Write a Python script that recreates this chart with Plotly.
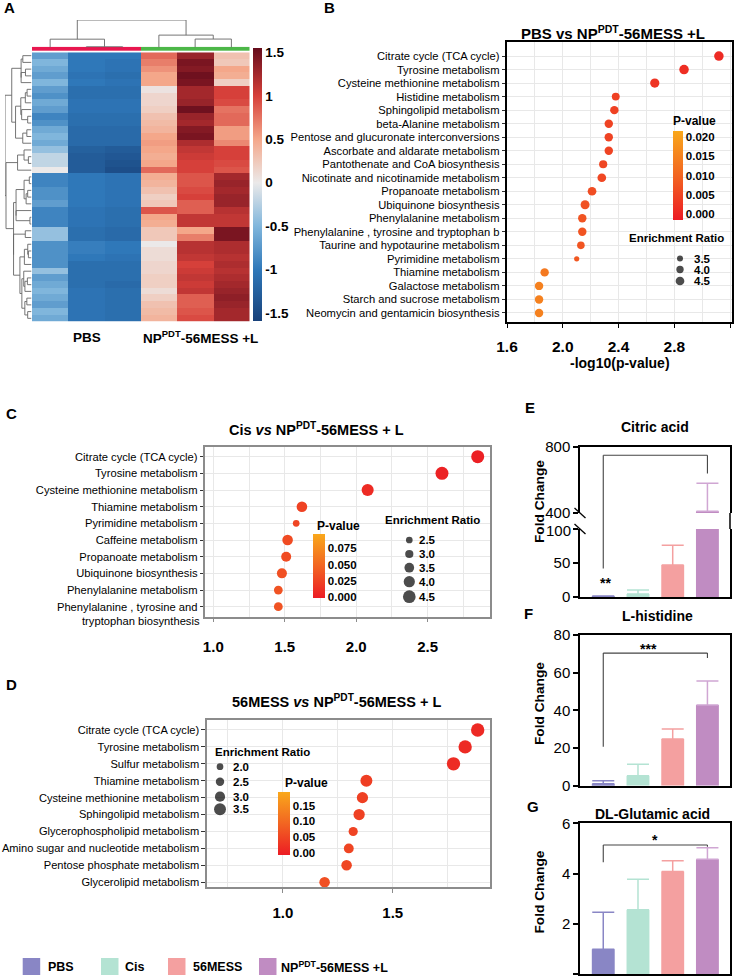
import numpy as np
import plotly.graph_objects as go

W, H = 737, 980
FONT = "Liberation Sans, Arial, Helvetica, sans-serif"
NARROW = "Liberation Sans Narrow, Arial Narrow, Liberation Sans, sans-serif"


def px(x):
    return x / W


def py(y):
    return 1 - y / H


# ---------------- Panel A : heatmap (z-scores) ----------------
heat_samples = ["PBS-1", "PBS-2", "PBS-3", "NP-1", "NP-2", "NP-3"]
heat_sample_group = [0, 0, 0, 1, 1, 1]
heat_group_labels = ["PBS", "NP<sup>PDT</sup>-56MESS +L"]
pbs1 = [-0.7, -0.5, -0.6, -0.7, -0.5, -0.7, -0.8, -0.6, -0.7, -0.9, -0.8, -0.6, -0.5, -0.6, -0.4, -0.2,
        -0.2, 0.0, -0.9, -0.9, -0.8, -0.8, -0.7, -0.9, -0.9, -0.9, -0.4, -0.4, -0.8, -0.8, -0.8, -0.8,
        -0.4, -0.7, -0.6, -0.5, -0.6, -0.7, -0.5, -0.6]
pbs2 = [-1.0, -1.0, -1.0, -1.05, -1.0, -1.1, -1.1, -1.05, -1.05, -1.1, -1.1, -1.15, -1.15, -1.15, -1.25,
        -1.3, -1.3, -1.3, -1.0, -1.0, -1.0, -1.0, -1.0, -1.05, -1.05, -1.05, -1.1, -1.1, -0.95, -0.95,
        -1.0, -1.1, -1.1, -1.1, -1.1, -1.05, -1.05, -1.05, -1.05, -1.05]
pbs3 = [-1.0, -1.05, -1.05, -1.1, -1.05, -1.1, -1.1, -1.05, -1.05, -1.1, -1.1, -1.15, -1.15, -1.15, -1.3,
        -1.35, -1.4, -1.45, -1.05, -1.05, -1.05, -1.05, -1.05, -1.1, -1.1, -1.1, -1.15, -1.15, -1.0, -1.0,
        -1.05, -1.1, -1.1, -1.1, -1.15, -1.1, -1.1, -1.1, -1.1, -1.1]
np1 = [0.8, 0.7, 0.6, 0.5, 0.5, 0.05, 0.15, 0.15, 0.2, 0.3, 0.35, 0.4, 0.5, 0.55, 0.5, 0.45, 0.5, 0.8,
       0.45, 0.4, 0.3, 0.2, 0.25, 0.9, 0.5, 0.45, 0.25, 0.25, 0.0, 0.1, 0.1, 0.15, 0.15, 0.2, 0.2, 0.1,
       0.2, 0.3, 0.35, 0.4]
np2 = [1.3, 1.45, 1.4, 1.5, 1.45, 1.25, 1.25, 1.3, 1.5, 1.3, 1.25, 1.4, 1.45, 1.2, 1.1, 1.05, 1.0, 1.0,
       0.9, 0.9, 0.95, 1.0, 0.85, 0.85, 1.1, 1.1, 0.5, 0.7, 1.15, 1.15, 1.1, 1.0, 1.05, 1.1, 1.05, 1.1,
       0.85, 0.85, 0.9, 0.95]
np3 = [0.3, 0.25, 0.5, 0.45, 0.2, 1.0, 1.0, 0.95, 0.75, 0.8, 0.8, 0.55, 0.55, 0.65, 1.0, 1.0, 0.95, 0.9,
       1.25, 1.3, 1.25, 1.3, 1.3, 1.15, 1.1, 1.1, 1.45, 1.45, 1.2, 1.2, 1.15, 1.2, 1.15, 1.2, 1.25, 1.3,
       1.35, 1.3, 1.25, 1.25]
heat_cols = [pbs1, pbs2, pbs3, np1, np2, np3]
heat_ticks = [1.5, 1, 0.5, 0, -0.5, -1, -1.5]
heat_tick_text = ["1.5", "1", "0.5", "0", "-0.5", "-1", "-1.5"]

# ---------------- Panel B ----------------
b_pathways = ["Citrate cycle (TCA cycle)", "Tyrosine metabolism", "Cysteine methionine metabolism",
              "Histidine metabolism", "Sphingolipid metabolism", "beta-Alanine metabolism",
              "Pentose and glucuronate interconversions", "Ascorbate and aldarate metabolism",
              "Pantothenate and CoA biosynthesis", "Nicotinate and nicotinamide metabolism",
              "Propanoate metabolism", "Ubiquinone biosynthesis", "Phenylalanine metabolism",
              "Phenylalanine , tyrosine and tryptophan b", "Taurine and hypotaurine metabolism",
              "Pyrimidine metabolism", "Thiamine metabolism", "Galactose metabolism",
              "Starch and sucrose metabolism", "Neomycin and gentamicin biosynthesis"]
b_log10p = [3.12, 2.87, 2.66, 2.38, 2.37, 2.33, 2.33, 2.33, 2.29, 2.28, 2.21, 2.16, 2.14, 2.14, 2.13,
            2.10, 1.87, 1.83, 1.83, 1.83]
b_ratio = [4.8, 4.8, 4.7, 4.2, 4.4, 4.4, 4.4, 4.4, 4.3, 4.5, 4.5, 4.6, 4.4, 4.4, 4.1, 3.2, 4.4, 4.4,
           4.4, 4.4]
b_ratio_legend = [3.5, 4.0, 4.5]
b_p_ticks = [0.0, 0.005, 0.010, 0.015, 0.020]

# ---------------- Panel C ----------------
c_pathways = ["Citrate cycle (TCA cycle)", "Tyrosine metabolism", "Cysteine methionine metabolism",
              "Thiamine metabolism", "Pyrimidine metabolism", "Caffeine metabolism",
              "Propanoate metabolism", "Ubiquinone biosynthesis", "Phenylalanine metabolism",
              "Phenylalanine , tyrosine and"]
c_label_extra = "tryptophan biosynthesis"
c_log10p = [2.85, 2.60, 2.08, 1.62, 1.58, 1.52, 1.51, 1.48, 1.455, 1.455]
c_ratio = [4.6, 4.6, 4.3, 3.8, 2.5, 3.8, 3.6, 3.6, 3.2, 3.2]
c_ratio_legend = [2.5, 3.0, 3.5, 4.0, 4.5]
c_p_ticks = [0.0, 0.025, 0.050, 0.075]

# ---------------- Panel D ----------------
d_pathways = ["Citrate cycle (TCA cycle)", "Tyrosine metabolism", "Sulfur metabolism",
              "Thiamine metabolism", "Cysteine methionine metabolism", "Sphingolipid metabolism",
              "Glycerophospholipid metabolism", "Amino sugar and nucleotide metabolism",
              "Pentose phosphate metabolism", "Glycerolipid metabolism"]
d_log10p = [1.886, 1.829, 1.776, 1.38, 1.362, 1.347, 1.32, 1.30, 1.29, 1.19]
d_ratio = [3.9, 3.9, 3.9, 3.5, 3.3, 3.3, 2.7, 2.9, 3.1, 3.1]
d_ratio_legend = [2.0, 2.5, 3.0, 3.5]
d_p_ticks = [0.0, 0.05, 0.10, 0.15]

# ---------------- Panels E-G : bars ----------------
groups = ["PBS", "Cis", "56MESS", "NP<sup>PDT</sup>-56MESS +L"]
e_mean = [1.0, 4.5, 47.0, 410.0]
e_sd = [0.5, 5.8, 29.0, 170.0]
f_mean = [1.0, 5.3, 24.8, 42.8]
f_sd = [1.6, 6.1, 5.3, 12.8]
g_mean = [1.0, 2.56, 4.08, 4.57]
g_sd = [1.47, 1.22, 0.43, 0.46]
e_low_ticks = [0, 50, 100]
e_high_ticks = [400, 800]
e_bracket = [42, 750, 640]      # left leg end, bracket top, right leg end
f_bracket = [20.7, 70.4, 67.8]
g_bracket = [4.45, 5.14, 5.07]
e_stars, f_stars, g_stars = "**", "***", "*"

bar_colors = ["#8986c5", "#b4e3d3", "#f4a0a0", "#c08cc2"]
err_colors = ["#8986c5", "#b4e3d3", "#f4a0a0", "#d0a6d3"]
P_SCALE = [[0, "#ec1c24"], [0.5, "#f26522"], [1, "#f9a81b"]]

# ---------------- helpers ----------------
def contiguous_linkage(vectors):
    vecs = np.asarray(vectors, float)
    clusters = [dict(m=[i], pos=float(i), h=0.0) for i in range(len(vecs))]
    segs = []
    while len(clusters) > 1:
        best = None
        for k in range(len(clusters) - 1):
            a, b = clusters[k], clusters[k + 1]
            d = np.mean([np.linalg.norm(vecs[i] - vecs[j]) for i in a["m"] for j in b["m"]])
            if best is None or d < best[0]:
                best = (d, k)
        d, k = best
        a, b = clusters[k], clusters[k + 1]
        h = max(d, a["h"], b["h"])
        segs.append(([a["pos"], a["pos"], b["pos"], b["pos"]], [a["h"], h, h, b["h"]]))
        clusters[k:k + 2] = [dict(m=a["m"] + b["m"], pos=(a["pos"] + b["pos"]) / 2, h=h)]
    return segs, clusters[0]["h"]


def seg_xy(segs, swap=False):
    xs, ys = [], []
    for pos, hts in segs:
        if swap:
            xs += hts + [None]
            ys += pos + [None]
        else:
            xs += pos + [None]
            ys += hts + [None]
    return xs, ys


def tfont(size, bold=False, color="black", family=FONT):
    d = dict(family=family, size=size, color=color)
    if bold:
        d["weight"] = "bold"
    return d


annotations = []
shapes = []


def ann(text, x, y, size, bold=True, xanchor="center", yanchor="middle", angle=0,
        xref="paper", yref="paper", family=FONT):
    annotations.append(dict(text=text, x=x if xref != "paper" else px(x),
                            y=y if yref != "paper" else py(y), xref=xref, yref=yref,
                            showarrow=False, xanchor=xanchor, yanchor=yanchor, textangle=angle,
                            font=tfont(size, bold, family=family)))


fig = go.Figure()

# ---------------- Panel A ----------------
z = [list(r) for r in zip(*heat_cols)]
nrow = len(z)
zmin, zmax = -1.59, 1.55
stops = [(-1.59, "#18417a"), (-1.0, "#2f78b9"), (-0.5, "#80b6dc"), (0.0, "#ebe9e9"),
         (0.5, "#f4a78a"), (1.0, "#d6403a"), (1.55, "#650c1c")]
HEAT_SCALE = [[(v - zmin) / (zmax - zmin), c] for v, c in stops]

fig.add_trace(go.Heatmap(
    z=z, x=list(range(len(heat_samples))), y=list(range(nrow)), colorscale=HEAT_SCALE,
    zmin=zmin, zmax=zmax, xaxis="x", yaxis="y", hoverinfo="skip",
    colorbar=dict(x=px(253), xanchor="left", y=py(48), yanchor="top", len=273 / H,
                  lenmode="fraction", thickness=9, thicknessmode="pixels", xpad=0, ypad=0,
                  outlinewidth=0, tickvals=heat_ticks, ticktext=heat_tick_text, ticks="",
                  tickfont=tfont(13.5, True))))
fig.add_trace(go.Heatmap(
    z=[heat_sample_group], x=list(range(len(heat_samples))), y=[0], xaxis="x2", yaxis="y2",
    colorscale=[[0, "#e8174f"], [0.5, "#e8174f"], [0.5, "#4cb748"], [1, "#4cb748"]],
    showscale=False, hoverinfo="skip"))

col_segs, col_root = contiguous_linkage(heat_cols)
row_segs, row_root = contiguous_linkage(z)
cx, cy = seg_xy(col_segs)
rx, ry = seg_xy(row_segs, swap=True)
fig.add_trace(go.Scatter(x=cx, y=cy, mode="lines", line=dict(color="#666666", width=0.9),
                         xaxis="x3", yaxis="y3", hoverinfo="skip", showlegend=False))
fig.add_trace(go.Scatter(x=rx, y=ry, mode="lines", line=dict(color="#666666", width=0.9),
                         xaxis="x4", yaxis="y4", hoverinfo="skip", showlegend=False))

ann("A", 9, 8, 15)
ann(heat_group_labels[0], 86.5, 337, 13.5)
ann(heat_group_labels[1], 201, 337, 13.5)


# ---------------- bubble panels ----------------
def pbar(x0, x1, y0, y1, tickvals, fmt):
    return dict(x=px(x0), xanchor="left", y=py(y0), yanchor="top", len=(y1 - y0) / H,
                lenmode="fraction", thickness=x1 - x0, thicknessmode="pixels", xpad=0, ypad=0,
                outlinewidth=0, tickvals=tickvals, ticktext=[fmt.format(v) for v in tickvals],
                ticks="", tickfont=tfont(11.5, True))


def bubble(xs, ratios, size_fn, cbar, cmin, cmax, xa, ya):
    pvals = [10 ** (-v) for v in xs]
    fig.add_trace(go.Scatter(
        x=xs, y=list(range(len(xs))), mode="markers", xaxis=xa, yaxis=ya, hoverinfo="skip",
        showlegend=False,
        marker=dict(size=[size_fn(r) for r in ratios], color=pvals, colorscale=P_SCALE,
                    cmin=cmin, cmax=cmax, showscale=True, colorbar=cbar, line=dict(width=0),
                    opacity=1)))


size_b = lambda r: 6.0 + 2.7 * (r - 3.5)
size_c = lambda r: 6.7 + 3.0 * (r - 2.5)
size_d = lambda r: 6.7 + 3.5 * (r - 2.0)

bubble(b_log10p, b_ratio, size_b, pbar(673, 683, 131, 220, b_p_ticks, "{:.3f}"),
       -0.00156, 0.02156, "x5", "y5")
bubble(c_log10p, c_ratio, size_c, pbar(313.3, 325.3, 534.3, 598.3, c_p_ticks, "{:.3f}"),
       -0.0015, 0.0964, "x6", "y6")
bubble(d_log10p, d_ratio, size_d, pbar(278.3, 290, 791.7, 855, d_p_ticks, "{:.2f}"),
       -0.0054, 0.194, "x7", "y7")

# size legends drawn on a pixel overlay axis
leg_x, leg_y, leg_s = [], [], []
for ratios, fn, x0, ys, lx in [
        (b_ratio_legend, size_b, 680, [258.5, 269.5, 281], 691.7),
        (c_ratio_legend, size_c, 409.3, [540, 554, 567.7, 581.7, 596.7], 416.7),
        (d_ratio_legend, size_d, 220, [766.7, 781.7, 796.7, 809.3], 231)]:
    for r, yy in zip(ratios, ys):
        leg_x.append(x0)
        leg_y.append(yy)
        leg_s.append(fn(r))
        ann("{:.1f}".format(r), lx, yy, 11.5, xanchor="left")
fig.add_trace(go.Scatter(x=leg_x, y=leg_y, mode="markers", xaxis="x12", yaxis="y12",
                         marker=dict(size=leg_s, color="black", line=dict(width=0)),
                         hoverinfo="skip", showlegend=False))

ann("B", 329, 8, 15)
ann("PBS vs NP<sup>PDT</sup>-56MESS +L", 613, 33, 15)
ann("-log10(p-value)", 620, 362.7, 14)
ann("P-value", 671, 121, 12, xanchor="left")
ann("Enrichment Ratio", 626.7, 238, 11.5, xanchor="left")

ann("C", 12, 414, 15)
ann("Cis <i>vs</i> NP<sup>PDT</sup>-56MESS + L", 316, 429, 14.5)
ann("P-value", 315, 526, 12, xanchor="left")
ann("Enrichment Ratio", 383.3, 520, 11.5, xanchor="left")
ann(c_label_extra, 201.7, 620.5, 11.2, bold=False, xanchor="right")

ann("D", 12, 684, 15)
ann("56MESS <i>vs</i> NP<sup>PDT</sup>-56MESS + L", 336.7, 701, 14.5)
ann("P-value", 283.3, 782.7, 12, xanchor="left")
ann("Enrichment Ratio", 212.7, 751.7, 11.5, xanchor="left")

# ---------------- bar panels ----------------
def bars(means, sds, xa, ya):
    for i in range(len(groups)):
        fig.add_trace(go.Bar(
            x=[i], y=[means[i]], width=0.66, marker=dict(color=bar_colors[i], line=dict(width=0)),
            error_y=dict(type="data", array=[sds[i]], arrayminus=[0], symmetric=False,
                         color=err_colors[i], thickness=1.5, width=11),
            xaxis=xa, yaxis=ya, showlegend=False, hoverinfo="skip"))


bars(e_mean, e_sd, "x8", "y8")
bars(e_mean, e_sd, "x9", "y9")
bars(f_mean, f_sd, "x10", "y10")
bars(g_mean, g_sd, "x11", "y11")

# E broken-axis mapping (value -> pixel y)
E_LO = (597, 529, 0, 100)
E_HI = (513, 447, 400, 800)


def e_pix(v):
    b, t, lo, hi = E_HI if v >= 400 else E_LO
    return b - (v - lo) / (hi - lo) * (b - t)


BR = dict(color="#444444", width=1.1)
for x0, x1, v0, v1 in [(0, 0, e_bracket[0], e_bracket[1]), (0, 3, e_bracket[1], e_bracket[1]),
                       (3, 3, e_bracket[1], e_bracket[2])]:
    shapes.append(dict(type="line", xref="x8", yref="paper", x0=x0, x1=x1,
                       y0=py(e_pix(v0)), y1=py(e_pix(v1)), line=BR))
for xa, ya, br in [("x10", "y10", f_bracket), ("x11", "y11", g_bracket)]:
    for x0, x1, v0, v1 in [(0, 0, br[0], br[1]), (0, 3, br[1], br[1]), (3, 3, br[1], br[2])]:
        shapes.append(dict(type="line", xref=xa, yref=ya, x0=x0, x1=x1, y0=v0, y1=v1, line=BR))

for yb in (513, 529):
    shapes.append(dict(type="line", xref="paper", yref="paper", x0=px(574.5), x1=px(585.5),
                       y0=py(yb - 5), y1=py(yb + 5), line=dict(color="black", width=1.3)))
shapes.append(dict(type="line", xref="paper", yref="paper", x0=px(730), x1=px(730),
                   y0=py(513), y1=py(529), line=dict(color="black", width=1.5)))

# top tick label of the lower E segment, placed through the same value->pixel mapping
ann(str(e_low_ticks[-1]), 573, e_pix(e_low_ticks[-1]) + 1.5, 15, bold=False, xanchor="right")

ann(e_stars, 0.05, 20, 14, xref="x8", yref="y8")
ann(f_stars, 1.3, 72.6, 14, xref="x10", yref="y10")
ann(g_stars, 1.5, 5.33, 14, xref="x11", yref="y11")

ann("E", 530, 407, 15)
ann("F", 528, 613, 15)
ann("G", 533, 806, 15)
ann("Citric acid", 655, 427, 14)
ann("L-histidine", 657, 616, 14)
ann("DL-Glutamic acid", 652, 814, 14)
for yc in (502, 704, 892.5):
    ann("Fold Change", 539, yc, 13.7, angle=-90)

for (x0, lx), name, col in zip([(22.7, 45.7), (101, 123), (168, 190.7), (259, 279)], groups, bar_colors):
    shapes.append(dict(type="rect", xref="paper", yref="paper", x0=px(x0), x1=px(x0 + 17.5),
                       y0=py(975), y1=py(958), fillcolor=col, line=dict(width=0)))
    ann(name, lx, 966.5, 12.5, xanchor="left", family=NARROW)

# ---------------- layout ----------------
hid = dict(visible=False, showgrid=False, zeroline=False, fixedrange=True, automargin=False)
heat_xd = [px(32), px(249.5)]
heat_yd = [py(321.7), py(52.3)]
ncol = len(heat_samples)

GRID = "#e8e8e8"


def bubble_axes(xd, yd, xr, yr, tickvals, minor_dtick, tick0, names, linecolor, tfs, standoff, lfs):
    xa = dict(domain=xd, range=xr, tickvals=tickvals, ticktext=["{:.1f}".format(v) for v in tickvals],
              showgrid=True, gridcolor=GRID, gridwidth=1,
              minor=dict(dtick=minor_dtick, tick0=tick0, showgrid=True, gridcolor=GRID, ticks=""),
              showline=True, linecolor=linecolor, linewidth=1.5, mirror=True, ticks="outside",
              ticklen=4, tickcolor=linecolor, tickfont=tfont(tfs, True), zeroline=False,
              ticklabelstandoff=standoff, fixedrange=True, automargin=False)
    ya = dict(domain=yd, range=yr, tickvals=list(range(len(names))), ticktext=names,
              showgrid=True, gridcolor=GRID, showline=True, linecolor=linecolor, linewidth=1.5,
              mirror=True, ticks="outside", ticklen=3.5, tickcolor="#333333",
              tickfont=tfont(lfs), zeroline=False, fixedrange=True, automargin=False)
    return xa, ya


xa5, ya5 = bubble_axes([px(507), px(732)], [py(322), py(42)], [1.6, 3.214],
                       [len(b_pathways) - 1 + 0.67, -1.04], [1.6, 2.0, 2.4, 2.8, 3.2], 0.2, 1.6,
                       b_pathways, "black", 15.5, 6, 11.2)
xa6, ya6 = bubble_axes([px(205), px(490)], [py(616.7), py(446.7)], [0.942, 2.936],
                       [len(c_pathways) - 1 + 0.6, -0.6], [1.0, 1.5, 2.0, 2.5], 0.25, 1.0,
                       c_pathways, "#8c8c8c", 15, 12, 11.2)
xa7, ya7 = bubble_axes([px(206.7), px(490)], [py(887.3), py(720)], [0.654, 1.942],
                       [len(d_pathways) - 1 + 0.3, -0.59], [1.0, 1.5], 0.25, 1.0,
                       d_pathways, "#8c8c8c", 15, 7, 11.1)

bar_xd = [px(580), px(730)]
bar_xr = [-0.67, 3.65]


def bar_x(mirror=True, side="bottom"):
    return dict(domain=bar_xd, range=bar_xr, showline=True, linecolor="black", linewidth=1.5,
                mirror=mirror, side=side, showticklabels=False, ticks="", showgrid=False,
                zeroline=False, fixedrange=True, automargin=False)


def bar_y(yd, yr, tickvals, ticktext=None):
    d = dict(domain=yd, range=yr, tickvals=tickvals, showline=True, linecolor="black",
             linewidth=1.5, mirror=True, ticks="outside", ticklen=5, tickwidth=1.5,
             tickcolor="black", tickfont=tfont(15), showgrid=False, zeroline=False,
             fixedrange=True, automargin=False)
    if ticktext is not None:
        d["ticktext"] = ticktext
    return d


fig.update_layout(
    width=W, height=H, autosize=False,
    margin=dict(l=0, r=0, t=0, b=0, pad=0, autoexpand=False),
    paper_bgcolor="white", plot_bgcolor="rgba(0,0,0,0)", barmode="overlay",
    font=dict(family=FONT, color="black"), showlegend=False,
    xaxis=dict(domain=heat_xd, range=[-0.5, ncol - 0.5], anchor="y", **hid),
    yaxis=dict(domain=heat_yd, range=[nrow - 0.5, -0.5], anchor="x", **hid),
    xaxis2=dict(domain=heat_xd, range=[-0.5, ncol - 0.5], anchor="y2", **hid),
    yaxis2=dict(domain=[py(51), py(46.7)], range=[-0.5, 0.5], anchor="x2", **hid),
    xaxis3=dict(domain=heat_xd, range=[-0.5, ncol - 0.5], anchor="y3", **hid),
    yaxis3=dict(domain=[py(47.5), py(20)], range=[0, col_root], anchor="x3", **hid),
    xaxis4=dict(domain=[px(5), px(31.5)], range=[row_root, 0], anchor="y4", **hid),
    yaxis4=dict(domain=heat_yd, range=[nrow - 0.5, -0.5], anchor="x4", **hid),
    xaxis5=dict(anchor="y5", **xa5), yaxis5=dict(anchor="x5", **ya5),
    xaxis6=dict(anchor="y6", **xa6), yaxis6=dict(anchor="x6", **ya6),
    xaxis7=dict(anchor="y7", **xa7), yaxis7=dict(anchor="x7", **ya7),
    xaxis8=dict(anchor="y8", **bar_x(mirror=False)),
    yaxis8=dict(anchor="x8", **bar_y([py(597), py(529)], [0, 100], e_low_ticks,
                                     [str(v) for v in e_low_ticks[:-1]] + [""])),
    xaxis9=dict(anchor="y9", **bar_x(mirror=False, side="top")),
    yaxis9=dict(anchor="x9", **bar_y([py(513), py(447)], [400, 800], e_high_ticks)),
    xaxis10=dict(anchor="y10", **bar_x()),
    yaxis10=dict(anchor="x10", **bar_y([py(785.7), py(635)], [0, 80], [0, 20, 40, 60, 80])),
    xaxis11=dict(anchor="y11", **bar_x()),
    yaxis11=dict(anchor="x11", **bar_y([py(974.3), py(823.3)], [0, 6], [0, 2, 4, 6])),
    xaxis12=dict(domain=[0, 1], range=[0, W], anchor="y12", **hid),
    yaxis12=dict(domain=[0, 1], range=[H, 0], anchor="x12", **hid),
    annotations=annotations, shapes=shapes,
)

fig.write_html("out.html", config={"displayModeBar": False},
               post_script="document.body.style.margin='0px';document.body.style.padding='0px';"
                           "document.body.style.overflow='hidden';")
